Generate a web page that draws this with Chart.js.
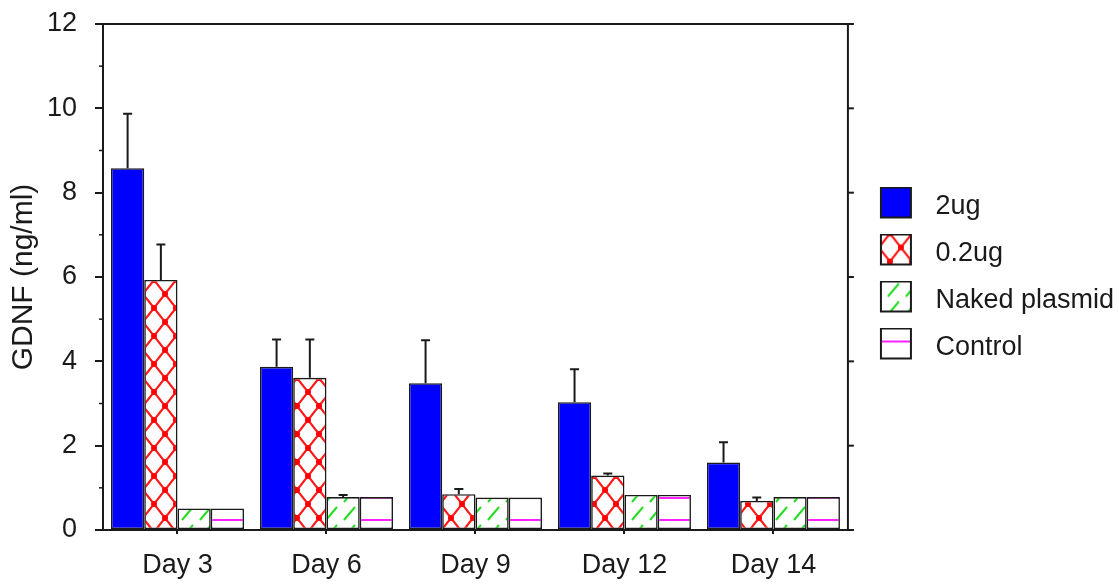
<!DOCTYPE html>
<html><head><meta charset="utf-8">
<script src="https://cdn.jsdelivr.net/npm/chart.js@4"></script>
<style>html,body{margin:0;padding:0;background:#fff;} canvas{display:block;}</style>
</head><body>
<canvas id="c" width="1119" height="584"></canvas>
<script>
const categories = ['Day 3', 'Day 6', 'Day 9', 'Day 12', 'Day 14'];
const seriesLabels = ['2ug', '0.2ug', 'Naked plasmid', 'Control'];
const ug2 = [8.58, 3.87, 3.48, 3.03, 1.60];
const ug2Err = [1.29, 0.65, 1.02, 0.78, 0.48];
const ug02 = [5.93, 3.61, 0.85, 1.29, 0.69];
const ug02Err = [0.84, 0.91, 0.12, 0.05, 0.08];
const naked = [0.51, 0.78, 0.77, 0.83, 0.78];
const nakedErr = [0, 0.05, 0, 0, 0];
const control = [0.51, 0.78, 0.77, 0.83, 0.78];
const controlErr = [0, 0, 0, 0, 0];
const yMin = 0, yMax = 12, yStep = 2;
const yTitle = 'GDNF (ng/ml)';

const FONT = '"Liberation Sans", Arial, sans-serif';
const INK = '#1a1a1a';

function makeTile(w, h, draw) {
  const c = document.createElement('canvas');
  c.width = w; c.height = h;
  const g = c.getContext('2d');
  g.fillStyle = '#fff'; g.fillRect(0, 0, w, h);
  draw(g, w, h);
  return c;
}
const canvas = document.getElementById('c');
const ctx = canvas.getContext('2d');

const crossTile = makeTile(22, 28, (g, w, h) => {
  g.strokeStyle = '#ff1a1a'; g.lineWidth = 2.2;
  g.beginPath(); g.moveTo(0, 0); g.lineTo(w, h); g.moveTo(w, 0); g.lineTo(0, h); g.stroke();
  g.fillStyle = '#ff0000';
  [[0, 0], [w, 0], [0, h], [w, h], [w / 2, h / 2]].forEach(([x, y]) => {
    g.beginPath(); g.arc(x, y, 3, 0, Math.PI * 2); g.fill();
  });
});
const greenTile = makeTile(18, 18, (g) => {
  g.strokeStyle = '#22dd22'; g.lineWidth = 2;
  g.beginPath(); g.moveTo(2, 16); g.lineTo(13, 3); g.stroke();
});
const magentaTile = makeTile(8, 22, (g, w) => {
  g.fillStyle = '#ff22ff'; g.fillRect(0, 13, w, 2);
});
const crossPat = ctx.createPattern(crossTile, 'repeat');
const greenPat = ctx.createPattern(greenTile, 'repeat');
const magentaPat = ctx.createPattern(magentaTile, 'repeat');

// legend swatch images: 54x40 canvas, 32x32 box at x 12..44, rows 0..32
function makeSwatch(fill) {
  const c = document.createElement('canvas');
  c.width = 54; c.height = 40;
  const g = c.getContext('2d');
  g.fillStyle = typeof fill === 'string' ? fill : g.createPattern(fill, 'repeat');
  g.fillRect(13, 1, 30, 30);
  g.strokeStyle = INK; g.lineWidth = 2;
  g.strokeRect(13, 1, 30, 30);
  return c;
}
const swatches = [makeSwatch('#0000ff'), makeSwatch(crossTile), makeSwatch(greenTile), makeSwatch(magentaTile)];

const framePlugin = {
  id: 'frame',
  afterDraw(chart) {
    const {ctx: c, chartArea: a, scales: {y}} = chart;
    c.save();
    c.strokeStyle = INK; c.lineWidth = 2;
    c.beginPath();
    c.moveTo(a.left - 1, a.top); c.lineTo(a.right, a.top); c.lineTo(a.right, a.bottom);
    c.stroke();
    y.ticks.forEach(t => {
      const py = y.getPixelForValue(t.value);
      c.beginPath(); c.moveTo(a.right, py); c.lineTo(a.right + 6, py); c.stroke();
    });
    c.lineWidth = 1.5;
    const t = y.ticks;
    for (let i = 0; i < t.length - 1; i++) {
      const py = y.getPixelForValue((t[i].value + t[i + 1].value) / 2);
      c.beginPath(); c.moveTo(a.left - 4, py); c.lineTo(a.left, py); c.stroke();
    }
    c.restore();
  }
};

const errorPlugin = {
  id: 'errorBars',
  afterDatasetsDraw(chart) {
    const c = chart.ctx, ys = chart.scales.y;
    c.save();
    c.strokeStyle = INK; c.lineWidth = 2;
    chart.data.datasets.forEach((ds, i) => {
      const meta = chart.getDatasetMeta(i);
      ds.errors.forEach((e, j) => {
        if (!e) return;
        const bar = meta.data[j];
        const top = ys.getPixelForValue(ds.data[j] + e);
        c.beginPath();
        c.moveTo(bar.x, bar.y); c.lineTo(bar.x, top);
        c.moveTo(bar.x - 4.5, top); c.lineTo(bar.x + 4.5, top);
        c.stroke();
      });
    });
    c.restore();
  }
};

const common = {borderColor: INK, borderWidth: 1.6, borderSkipped: false};

new Chart(ctx, {
  type: 'bar',
  data: {
    labels: categories,
    datasets: [
      Object.assign({label: seriesLabels[0], data: ug2, errors: ug2Err, backgroundColor: '#0000ff'}, common),
      Object.assign({label: seriesLabels[1], data: ug02, errors: ug02Err, backgroundColor: crossPat}, common),
      Object.assign({label: seriesLabels[2], data: naked, errors: nakedErr, backgroundColor: greenPat}, common),
      Object.assign({label: seriesLabels[3], data: control, errors: controlErr, backgroundColor: magentaPat}, common)
    ]
  },
  options: {
    responsive: false,
    animation: false,
    devicePixelRatio: 1,
    layout: {padding: {left: 0, right: -5, top: 24, bottom: 2.6}},
    datasets: {bar: {categoryPercentage: 0.893, barPercentage: 1}},
    plugins: {
      legend: {
        position: 'right', fullSize: false,
        labels: {
          usePointStyle: true, pointStyleWidth: 54, boxHeight: 27, padding: 20,
          color: INK, font: {family: FONT, size: 27},
          generateLabels(chart) {
            const items = Chart.defaults.plugins.legend.labels.generateLabels(chart);
            items.forEach(it => { it.pointStyle = swatches[it.datasetIndex]; });
            return items;
          }
        }
      },
      tooltip: {enabled: false}
    },
    scales: {
      x: {
        grid: {offset: false, drawOnChartArea: false, drawTicks: true, tickLength: 4, color: INK, lineWidth: 2},
        border: {display: true, color: INK, width: 2},
        ticks: {color: INK, font: {family: FONT, size: 27}, padding: 15},
        afterFit(s) { s.height = 51.4; s.paddingLeft = 0; s.paddingRight = 0; }
      },
      y: {
        min: yMin, max: yMax,
        ticks: {stepSize: yStep, color: INK, font: {family: FONT, size: 27}, padding: 18},
        grid: {drawOnChartArea: false, tickLength: 8, color: INK, lineWidth: 2},
        border: {display: true, color: INK, width: 2},
        title: {display: true, text: yTitle, color: INK, font: {family: FONT, size: 30, lineHeight: 1.2}, padding: {top: 6, bottom: 4}},
        afterFit(s) { s.width = 103; s.paddingTop = 0; s.paddingBottom = 0; }
      }
    }
  },
  plugins: [framePlugin, errorPlugin]
});
</script>
</body></html>
